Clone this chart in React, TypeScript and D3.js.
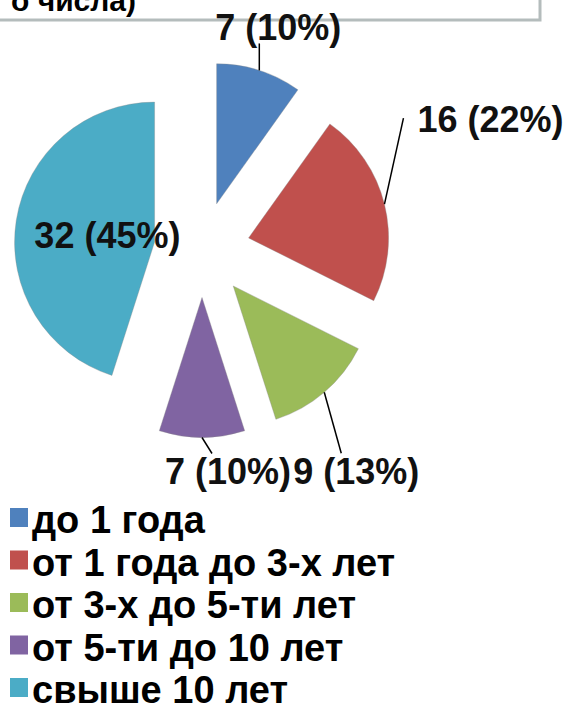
import React from "react";
import * as d3 from "d3";

// Распределение по стажу
const categories = [
  "до 1 года",
  "от 1 года до 3-х лет",
  "от 3-х до 5-ти лет",
  "от 5-ти до 10 лет",
  "свыше 10 лет",
];
const counts = [7, 16, 9, 7, 32];
const percents = [10, 22, 13, 10, 45];
const colors = ["#4f81bd", "#c0504d", "#9bbb59", "#8064a2", "#4bacc6"];

// label placement (offset of leader end from arc point, text offset from leader end)
const labelLayout = [
  { leader: [0, -27], text: [19, -3], anchor: "middle" },
  { leader: [19, -86], text: [14, 14], anchor: "start" },
  { leader: [17, 61], text: [15, 31], anchor: "middle" },
  { leader: [10, 16], text: [16, 30], anchor: "middle" },
  { leader: null, text: [22, 17], anchor: "middle" },
];

const W = 565;
const H = 705;
const cx = 202;
const cy = 249.5;
const radius = 140;
const explode = 48;
const font = "'Liberation Sans', Arial, sans-serif";

const App = () => {
  const data = categories.map((c, i) => ({ name: c, value: counts[i], pct: percents[i] }));
  const pie = d3
    .pie<any>()
    .value(d => d.value)
    .sort(null)
    .startAngle(0)
    .endAngle(2 * Math.PI);
  const arc = d3.arc<any>().innerRadius(0).outerRadius(radius);
  const arcs = pie(data);

  return (
    <svg
      width={W}
      height={H}
      style={{ position: "absolute", left: 0, top: 0, background: "#fff" }}
      fontFamily={font}
    >
      {/* title box, cut at the top */}
      <rect x={-10} y={-10} width={550} height={30} fill="#fff" stroke="#b4bcbc" strokeWidth={3} />
      <text x={136} y={11} textAnchor="end" fontSize={30} fontWeight="bold" fill="#000">
        о числа)
      </text>

      {arcs.map((a, i) => {
        const mid = (a.startAngle + a.endAngle) / 2;
        const ox = cx + explode * Math.sin(mid);
        const oy = cy - explode * Math.cos(mid);
        const px = ox + radius * Math.sin(mid);
        const py = oy - radius * Math.cos(mid);
        const L = labelLayout[i];
        let ex = px;
        let ey = py;
        let tx: number, ty: number;
        if (L.leader) {
          ex = px + L.leader[0];
          ey = py + L.leader[1];
          tx = ex + L.text[0];
          ty = ey + L.text[1];
        } else {
          const [ccx, ccy] = arc.centroid(a);
          tx = ox + ccx + L.text[0];
          ty = oy + ccy + L.text[1];
        }
        return (
          <g key={i}>
            <path
              d={arc(a) as string}
              transform={`translate(${ox},${oy})`}
              fill={colors[i]}
              stroke="#8a8a8a"
              strokeWidth={0.6}
              strokeOpacity={0.6}
            />
            {L.leader && (
              <line x1={px} y1={py} x2={ex} y2={ey} stroke="#000" strokeWidth={1.5} />
            )}
            <text
              x={tx}
              y={ty}
              textAnchor={L.anchor as any}
              fontSize={36}
              fontWeight="bold"
              fill="#111"
            >
              {`${a.data.value} (${a.data.pct}%)`}
            </text>
          </g>
        );
      })}

      {/* legend */}
      {categories.map((c, i) => {
        const y = 533 + i * 42.5;
        return (
          <g key={c}>
            <rect x={10} y={y - 25} width={18} height={19} fill={colors[i]} />
            <text x={32} y={y} fontSize={38} fontWeight="bold" fill="#000">
              {c}
            </text>
          </g>
        );
      })}
    </svg>
  );
};

export default App;
